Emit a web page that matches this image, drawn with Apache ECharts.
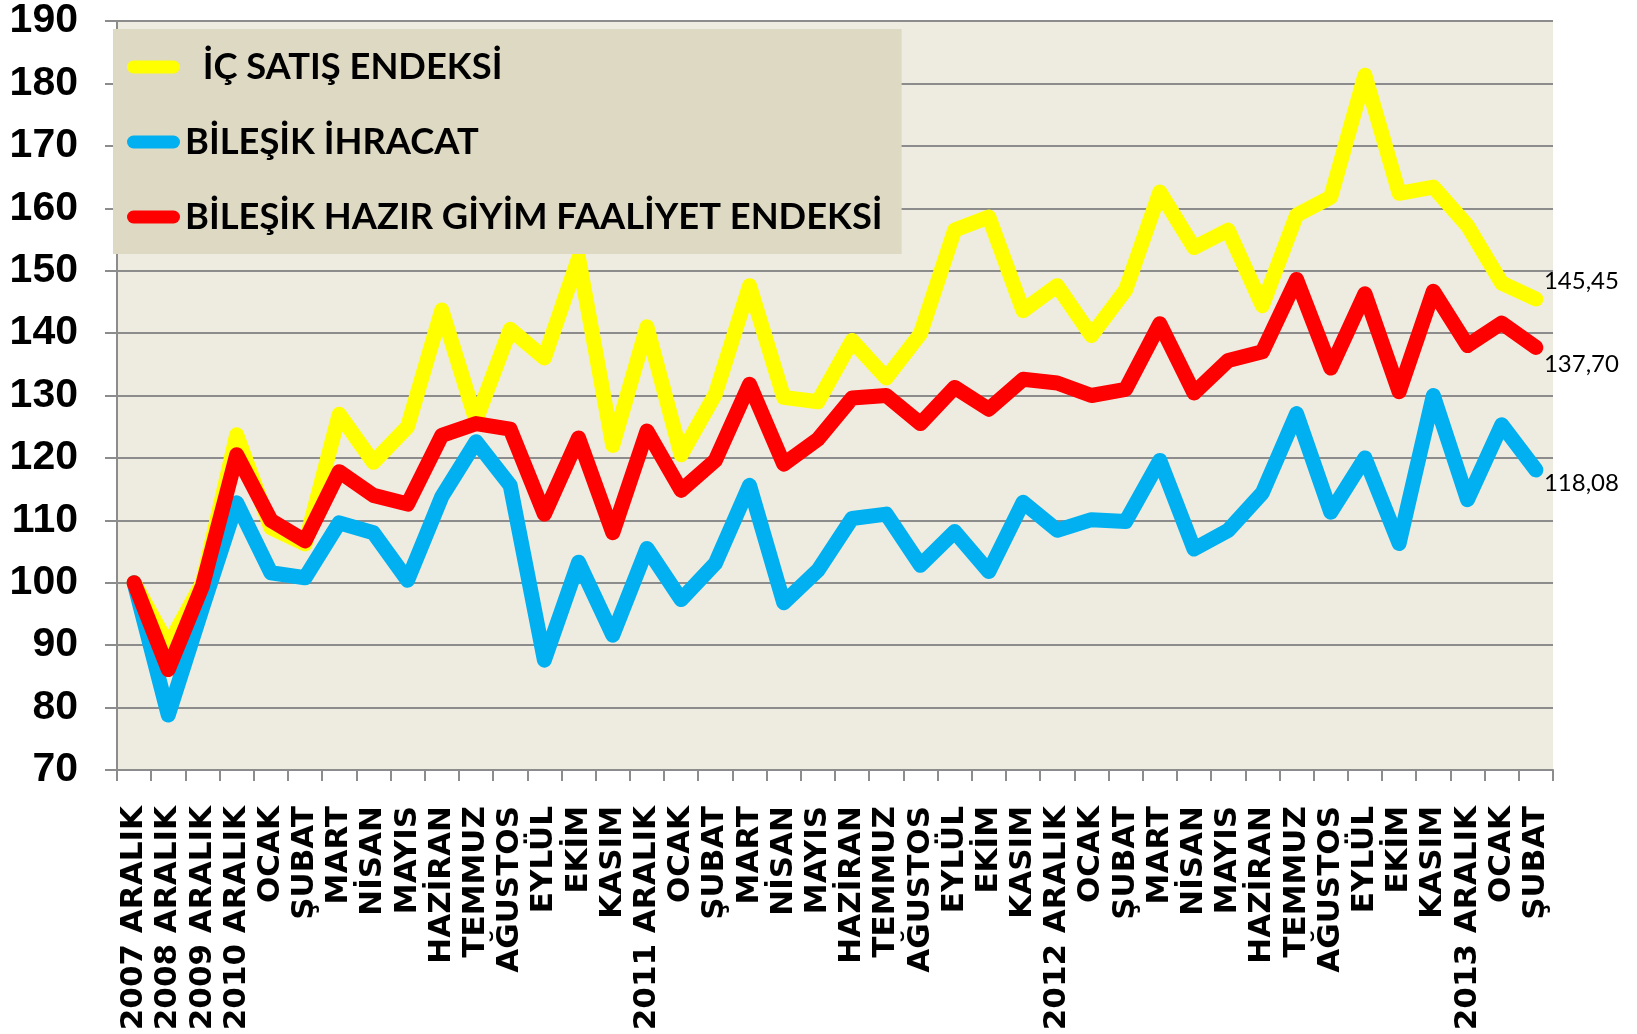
<!DOCTYPE html>
<html>
<head>
<meta charset="utf-8">
<script src="https://cdn.jsdelivr.net/npm/echarts@6/dist/echarts.min.js"></script>
<style>
html,body{margin:0;padding:0;background:#fff;}
#chart{width:1637px;height:1034px;}
</style>
</head>
<body>
<div id="chart"></div>
<script>
const categories = ['2007 ARALIK','2008 ARALIK','2009 ARALIK','2010 ARALIK','OCAK','ŞUBAT','MART','NİSAN','MAYIS','HAZİRAN','TEMMUZ','AĞUSTOS','EYLÜL','EKİM','KASIM','2011 ARALIK','OCAK','ŞUBAT','MART','NİSAN','MAYIS','HAZİRAN','TEMMUZ','AĞUSTOS','EYLÜL','EKİM','KASIM','2012 ARALIK','OCAK','ŞUBAT','MART','NİSAN','MAYIS','HAZİRAN','TEMMUZ','AĞUSTOS','EYLÜL','EKİM','KASIM','2013 ARALIK','OCAK','ŞUBAT'];

const icSatis = [100, 90, 100, 123.7, 108.8, 106.2, 127, 119.3, 125, 143.7, 126, 140.6, 136, 152, 122, 141, 120.5, 130.2, 147.6, 129.7, 129, 138.8, 132.8, 139.9, 156.5, 158.6, 143.6, 147.6, 139.6, 146.9, 162.6, 153.7, 156.5, 144.4, 158.9, 161.8, 181.3, 162.4, 163.4, 157.2, 148, 145.45];

const ihracat = [100, 78.8, 96, 112.8, 101.6, 100.8, 109.6, 108, 100.4, 113.8, 122.6, 115.6, 87.6, 103.3, 91.6, 105.5, 97.3, 103.1, 115.6, 96.8, 102, 110.3, 111, 102.8, 108.2, 101.8, 112.9, 108.4, 110.1, 109.8, 119.6, 105.4, 108.4, 114.4, 127.1, 111.3, 120, 106.3, 130, 113.3, 125.3, 118.08];

const hazirGiyim = [100, 86.1, 99.5, 120.5, 110, 106.7, 117.8, 114, 112.6, 123.6, 125.5, 124.6, 111, 123.2, 108, 124.3, 114.8, 119.6, 131.8, 119, 123, 129.6, 130, 125.5, 131.3, 127.8, 132.6, 132, 130, 131, 141.5, 130.4, 135.6, 137, 148.6, 134.4, 146.3, 130.6, 146.7, 138, 141.6, 137.70];

const seriesNames = ['İÇ SATIŞ ENDEKSİ', 'BİLEŞİK İHRACAT', 'BİLEŞİK HAZIR GİYİM FAALİYET ENDEKSİ'];
const seriesColors = ['#FFFF00', '#00B0F0', '#FF0000'];
const endLabelOffsets = [[0, -18], [0, 13], [0, 17]];

const chart = echarts.init(document.getElementById('chart'), null, {renderer: 'canvas'});

const fmt = v => Number(v).toFixed(2).replace('.', ',');

function mkSeries(idx, data) {
  return {
    name: seriesNames[idx],
    type: 'line',
    data: data,
    showSymbol: false,
    symbol: 'none',
    color: seriesColors[idx],
    itemStyle: {color: seriesColors[idx]},
    lineStyle: {color: seriesColors[idx], width: 15, cap: 'round', join: 'round'},
    endLabel: {
      show: true,
      formatter: p => fmt(p.value),
      distance: 8,
      offset: endLabelOffsets[idx],
      fontFamily: 'Lato',
      fontSize: 24,
      color: '#000'
    },
    z: 2 + idx
  };
}

const option = {
  animation: false,
  backgroundColor: '#ffffff',
  grid: {
    left: 117, right: 84, top: 21, bottom: 264,
    show: true, backgroundColor: '#EEECE1', borderWidth: 0
  },
  legend: {
    left: 113, top: 29,
    orient: 'vertical',
    backgroundColor: '#DDD9C3',
    padding: [20, 19, 19, 14],
    itemGap: 39,
    itemWidth: 53, itemHeight: 13,
    icon: 'path://M6.5,0 H46.5 A6.5,6.5 0 0 1 46.5,13 H6.5 A6.5,6.5 0 0 1 6.5,0 Z',
    selectedMode: false,
    formatter: name => (name === seriesNames[0] ? '  ' + name : name),
    textStyle: {fontFamily: 'Lato', fontWeight: 'bold', fontSize: 36.3, color: '#000'}
  },
  xAxis: {
    type: 'category',
    data: categories,
    boundaryGap: true,
    axisLine: {show: true, lineStyle: {color: '#8C8C8C', width: 2}},
    axisTick: {show: true, length: 11, interval: 0, lineStyle: {color: '#8C8C8C', width: 2}},
    axisLabel: {
      interval: 0, rotate: 90, margin: 36,
      fontFamily: 'DejaVu Sans', fontWeight: 'bold', fontSize: 31, color: '#000'
    },
    splitLine: {show: false}
  },
  yAxis: {
    type: 'value',
    min: 70, max: 190, interval: 10,
    axisLine: {show: true, lineStyle: {color: '#8C8C8C', width: 2}},
    axisTick: {show: true, length: 12, lineStyle: {color: '#8C8C8C', width: 2}},
    axisLabel: {
      margin: 39,
      fontFamily: 'Liberation Sans', fontWeight: 'bold', fontSize: 41, color: '#000'
    },
    splitLine: {show: true, lineStyle: {color: '#8C8C8C', width: 2}}
  },
  series: [
    mkSeries(0, icSatis),
    mkSeries(1, ihracat),
    mkSeries(2, hazirGiyim)
  ]
};

chart.setOption(option);
</script>
</body>
</html>
